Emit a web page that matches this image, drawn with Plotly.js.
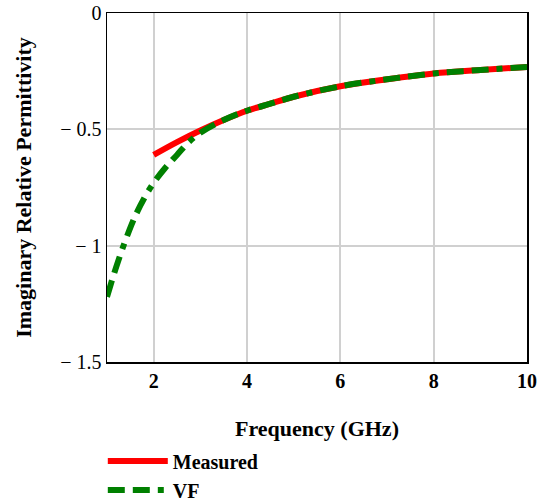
<!DOCTYPE html>
<html><head><meta charset="utf-8">
<script src="https://cdn.plot.ly/plotly-3.0.1.min.js"></script>
<style>body{margin:0;background:#fff}</style>
</head><body><div id="chart" style="width:543px;height:503px"></div>
<script>
const measuredX = [2, 2.5, 3, 3.5, 4, 4.5, 5, 6, 7, 8, 9, 10];
const measuredY = [-0.61, -0.555, -0.505, -0.46, -0.42, -0.39, -0.36, -0.315, -0.285, -0.26, -0.245, -0.232];
const vfX = [1, 1.2, 1.4, 1.6, 1.8, 2, 2.25, 2.5, 2.75, 3, 3.5, 4, 4.5, 5, 6, 7, 8, 9, 10];
const vfY = [-1.22, -1.09, -0.975, -0.875, -0.795, -0.73, -0.665, -0.61, -0.555, -0.515, -0.46, -0.42, -0.39, -0.36, -0.315, -0.285, -0.26, -0.245, -0.232];
const xTickVals = [2, 4, 6, 8, 10];
const xTickText = ['2', '4', '6', '8', '10'];
const yTickVals = [0, -0.5, -1, -1.5];
const yTickText = ['0', '\u2212 0.5', '\u2212 1', '\u2212 1.5'];

const font = 'Liberation Serif';
const traces = [
  {x: measuredX, y: measuredY, name: 'Measured', mode: 'lines', legendrank: 1,
   line: {color: '#ff0000', width: 6, shape: 'spline'}},
  {x: vfX, y: vfY, name: 'VF', mode: 'lines', legendrank: 2,
   line: {color: '#008000', width: 6, shape: 'spline', dash: '17px,8px,17px,8px,6px,8px'}}
];
const layout = {
  width: 543, height: 503,
  margin: {l: 107, r: 16, t: 13, b: 141, autoexpand: false},
  paper_bgcolor: '#fff', plot_bgcolor: '#fff',
  font: {family: font, color: '#000'},
  showlegend: true,
  legend: {x: -0.01, y: -0.228, xanchor: 'left', yanchor: 'top', orientation: 'v',
           font: {family: font, size: 20, color: '#000', weight: 'bold'}, itemwidth: 60,
           tracegroupgap: 0, bgcolor: 'rgba(0,0,0,0)'},
  xaxis: {range: [1, 10], tickvals: xTickVals, ticktext: xTickText, automargin: false,
          showgrid: true, gridcolor: '#d0d0d0', gridwidth: 2,
          showline: true, linecolor: '#000', linewidth: 1.5, mirror: true,
          ticks: '', zeroline: false,
          tickfont: {family: font, size: 20, weight: 'bold'},
          title: {text: 'Frequency (GHz)', font: {family: font, size: 22, weight: 'bold'}, standoff: 30}},
  yaxis: {range: [-1.5, 0], tickvals: yTickVals, ticktext: yTickText, automargin: false,
          showgrid: true, gridcolor: '#d0d0d0', gridwidth: 2,
          showline: true, linecolor: '#000', linewidth: 1.5, mirror: true,
          ticks: '', zeroline: false,
          tickfont: {family: font, size: 20},
          title: {text: 'Imaginary Relative Permittivity', font: {family: font, size: 22, weight: 'bold'}, standoff: 22}}
};
Plotly.newPlot('chart', traces, layout, {displayModeBar: false, staticPlot: true});
</script></body></html>
